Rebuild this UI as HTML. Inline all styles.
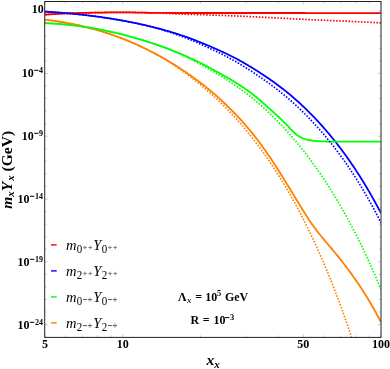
<!DOCTYPE html>
<html><head><meta charset="utf-8"><title>plot</title>
<style>
html,body{margin:0;padding:0;background:#fff;}
body{width:390px;height:369px;overflow:hidden;position:relative;font-family:"Liberation Serif",serif;}
</style></head><body>
<svg width="390" height="369" viewBox="0 0 390 369" style="position:absolute;left:0;top:0;display:block;will-change:transform">
<defs><clipPath id="c"><rect x="44.7" y="1.5" width="336.3" height="335.9"/></clipPath></defs>
<rect x="0" y="0" width="390" height="369" fill="#fff"/>
<g clip-path="url(#c)" fill="none" stroke-linejoin="round">
<path d="M45.0,14.60 L46.0,14.54 L47.0,14.48 L48.0,14.41 L49.0,14.35 L50.0,14.29 L51.0,14.23 L52.0,14.17 L53.0,14.12 L54.0,14.06 L55.0,14.00 L56.0,13.94 L57.0,13.88 L58.0,13.82 L59.0,13.76 L60.0,13.70 L61.0,13.65 L62.0,13.59 L63.0,13.53 L64.0,13.48 L65.0,13.43 L66.0,13.38 L67.0,13.34 L68.0,13.30 L69.0,13.26 L70.0,13.23 L71.0,13.20 L72.0,13.17 L73.0,13.14 L74.0,13.11 L75.0,13.08 L76.0,13.05 L77.0,13.03 L78.0,13.00 L79.0,12.98 L80.0,12.96 L81.0,12.93 L82.0,12.91 L83.0,12.89 L84.0,12.87 L85.0,12.85 L86.0,12.83 L87.0,12.81 L88.0,12.79 L89.0,12.77 L90.0,12.76 L91.0,12.74 L92.0,12.72 L93.0,12.71 L94.0,12.69 L95.0,12.67 L96.0,12.66 L97.0,12.64 L98.0,12.63 L99.0,12.61 L100.0,12.60 L101.0,12.59 L102.0,12.57 L103.0,12.55 L104.0,12.54 L105.0,12.52 L106.0,12.50 L107.0,12.49 L108.0,12.47 L109.0,12.45 L110.0,12.44 L111.0,12.42 L112.0,12.41 L113.0,12.40 L114.0,12.39 L115.0,12.38 L116.0,12.37 L117.0,12.36 L118.0,12.35 L119.0,12.35 L120.0,12.35 L121.0,12.35 L122.0,12.35 L123.0,12.36 L124.0,12.37 L125.0,12.37 L126.0,12.38 L127.0,12.39 L128.0,12.41 L129.0,12.42 L130.0,12.43 L131.0,12.45 L132.0,12.46 L133.0,12.47 L134.0,12.49 L135.0,12.50 L136.0,12.51 L137.0,12.53 L138.0,12.55 L139.0,12.57 L140.0,12.59 L141.0,12.62 L142.0,12.64 L143.0,12.66 L144.0,12.68 L145.0,12.71 L146.0,12.73 L147.0,12.75 L148.0,12.77 L149.0,12.79 L150.0,12.80 L151.0,12.81 L152.0,12.83 L153.0,12.84 L154.0,12.85 L155.0,12.86 L156.0,12.87 L157.0,12.89 L158.0,12.90 L159.0,12.91 L160.0,12.91 L161.0,12.92 L162.0,12.93 L163.0,12.94 L164.0,12.94 L165.0,12.95 L166.0,12.95 L167.0,12.96 L168.0,12.96 L169.0,12.97 L170.0,12.97 L171.0,12.98 L172.0,12.98 L173.0,12.99 L174.0,12.99 L175.0,12.99 L176.0,13.00 L177.0,13.00 L178.0,13.00 L179.0,13.00 L180.0,13.00 L181.0,13.00 L182.0,13.00 L183.0,13.00 L184.0,13.00 L185.0,13.00 L186.0,13.00 L187.0,13.00 L188.0,13.00 L189.0,13.00 L190.0,13.00 L191.0,13.00 L192.0,13.00 L193.0,13.00 L194.0,13.00 L195.0,13.00 L196.0,13.00 L197.0,13.00 L198.0,13.00 L199.0,13.00 L200.0,13.00 L201.0,13.00 L202.0,13.00 L203.0,13.00 L204.0,13.00 L205.0,13.00 L206.0,13.00 L207.0,13.00 L208.0,13.00 L209.0,13.00 L210.0,13.00 L211.0,13.00 L212.0,13.00 L213.0,13.00 L214.0,13.00 L215.0,13.00 L216.0,13.00 L217.0,13.00 L218.0,13.00 L219.0,13.00 L220.0,13.00 L221.0,13.00 L222.0,13.00 L223.0,13.00 L224.0,13.00 L225.0,13.00 L226.0,13.00 L227.0,13.00 L228.0,13.00 L229.0,13.00 L230.0,13.00 L231.0,13.00 L232.0,13.00 L233.0,13.00 L234.0,13.00 L235.0,13.00 L236.0,13.00 L237.0,13.00 L238.0,13.00 L239.0,13.00 L240.0,13.00 L241.0,13.00 L242.0,13.00 L243.0,13.00 L244.0,13.00 L245.0,13.00 L246.0,13.00 L247.0,13.00 L248.0,13.00 L249.0,13.00 L250.0,13.00 L251.0,13.00 L252.0,13.00 L253.0,13.00 L254.0,13.00 L255.0,13.00 L256.0,13.00 L257.0,13.00 L258.0,13.00 L259.0,13.00 L260.0,13.00 L261.0,13.00 L262.0,13.00 L263.0,13.00 L264.0,13.00 L265.0,13.00 L266.0,13.00 L267.0,13.00 L268.0,13.00 L269.0,13.01 L270.0,13.01 L271.0,13.01 L272.0,13.01 L273.0,13.01 L274.0,13.01 L275.0,13.01 L276.0,13.01 L277.0,13.01 L278.0,13.01 L279.0,13.01 L280.0,13.01 L281.0,13.01 L282.0,13.01 L283.0,13.01 L284.0,13.01 L285.0,13.01 L286.0,13.01 L287.0,13.01 L288.0,13.01 L289.0,13.01 L290.0,13.01 L291.0,13.02 L292.0,13.02 L293.0,13.02 L294.0,13.02 L295.0,13.02 L296.0,13.02 L297.0,13.02 L298.0,13.02 L299.0,13.02 L300.0,13.02 L301.0,13.02 L302.0,13.02 L303.0,13.02 L304.0,13.02 L305.0,13.02 L306.0,13.03 L307.0,13.03 L308.0,13.03 L309.0,13.03 L310.0,13.03 L311.0,13.03 L312.0,13.03 L313.0,13.03 L314.0,13.03 L315.0,13.03 L316.0,13.03 L317.0,13.03 L318.0,13.03 L319.0,13.04 L320.0,13.04 L321.0,13.04 L322.0,13.04 L323.0,13.04 L324.0,13.04 L325.0,13.04 L326.0,13.04 L327.0,13.04 L328.0,13.04 L329.0,13.04 L330.0,13.05 L331.0,13.05 L332.0,13.05 L333.0,13.05 L334.0,13.05 L335.0,13.05 L336.0,13.05 L337.0,13.05 L338.0,13.05 L339.0,13.05 L340.0,13.05 L341.0,13.06 L342.0,13.06 L343.0,13.06 L344.0,13.06 L345.0,13.06 L346.0,13.06 L347.0,13.06 L348.0,13.06 L349.0,13.06 L350.0,13.06 L351.0,13.07 L352.0,13.07 L353.0,13.07 L354.0,13.07 L355.0,13.07 L356.0,13.07 L357.0,13.07 L358.0,13.07 L359.0,13.07 L360.0,13.08 L361.0,13.08 L362.0,13.08 L363.0,13.08 L364.0,13.08 L365.0,13.08 L366.0,13.08 L367.0,13.08 L368.0,13.08 L369.0,13.09 L370.0,13.09 L371.0,13.09 L372.0,13.09 L373.0,13.09 L374.0,13.09 L375.0,13.09 L376.0,13.09 L377.0,13.10 L378.0,13.10 L379.0,13.10 L380.0,13.10 L381.0,13.10" stroke="#ff0000" stroke-width="1.8"/>
<path d="M45.0,11.64 L46.0,11.70 L47.0,11.76 L48.0,11.82 L49.0,11.89 L50.0,11.95 L51.0,12.02 L52.0,12.08 L53.0,12.15 L54.0,12.22 L55.0,12.29 L56.0,12.36 L57.0,12.44 L58.0,12.51 L59.0,12.59 L60.0,12.66 L61.0,12.74 L62.0,12.82 L63.0,12.91 L64.0,12.99 L65.0,13.07 L66.0,13.16 L67.0,13.25 L68.0,13.34 L69.0,13.43 L70.0,13.52 L71.0,13.61 L72.0,13.71 L73.0,13.80 L74.0,13.90 L75.0,14.00 L76.0,14.10 L77.0,14.20 L78.0,14.30 L79.0,14.41 L80.0,14.52 L81.0,14.62 L82.0,14.73 L83.0,14.84 L84.0,14.96 L85.0,15.07 L86.0,15.19 L87.0,15.31 L88.0,15.42 L89.0,15.55 L90.0,15.67 L91.0,15.79 L92.0,15.92 L93.0,16.04 L94.0,16.17 L95.0,16.30 L96.0,16.44 L97.0,16.57 L98.0,16.71 L99.0,16.84 L100.0,16.98 L101.0,17.12 L102.0,17.27 L103.0,17.41 L104.0,17.56 L105.0,17.70 L106.0,17.85 L107.0,18.01 L108.0,18.16 L109.0,18.31 L110.0,18.47 L111.0,18.63 L112.0,18.79 L113.0,18.95 L114.0,19.12 L115.0,19.28 L116.0,19.45 L117.0,19.62 L118.0,19.79 L119.0,19.97 L120.0,20.14 L121.0,20.32 L122.0,20.50 L123.0,20.68 L124.0,20.86 L125.0,21.05 L126.0,21.24 L127.0,21.43 L128.0,21.62 L129.0,21.81 L130.0,22.01 L131.0,22.21 L132.0,22.41 L133.0,22.61 L134.0,22.81 L135.0,23.02 L136.0,23.23 L137.0,23.44 L138.0,23.65 L139.0,23.87 L140.0,24.08 L141.0,24.30 L142.0,24.52 L143.0,24.75 L144.0,24.97 L145.0,25.20 L146.0,25.43 L147.0,25.67 L148.0,25.90 L149.0,26.14 L150.0,26.38 L151.0,26.62 L152.0,26.87 L153.0,27.12 L154.0,27.37 L155.0,27.62 L156.0,27.87 L157.0,28.13 L158.0,28.39 L159.0,28.65 L160.0,28.92 L161.0,29.19 L162.0,29.46 L163.0,29.73 L164.0,30.01 L165.0,30.28 L166.0,30.57 L167.0,30.85 L168.0,31.14 L169.0,31.43 L170.0,31.72 L171.0,32.02 L172.0,32.32 L173.0,32.62 L174.0,32.92 L175.0,33.23 L176.0,33.54 L177.0,33.86 L178.0,34.18 L179.0,34.50 L180.0,34.83 L181.0,35.16 L182.0,35.49 L183.0,35.83 L184.0,36.17 L185.0,36.52 L186.0,36.87 L187.0,37.22 L188.0,37.58 L189.0,37.94 L190.0,38.31 L191.0,38.68 L192.0,39.05 L193.0,39.43 L194.0,39.81 L195.0,40.20 L196.0,40.59 L197.0,40.98 L198.0,41.38 L199.0,41.77 L200.0,42.18 L201.0,42.58 L202.0,42.99 L203.0,43.40 L204.0,43.82 L205.0,44.24 L206.0,44.65 L207.0,45.08 L208.0,45.50 L209.0,45.93 L210.0,46.35 L211.0,46.78 L212.0,47.22 L213.0,47.65 L214.0,48.09 L215.0,48.52 L216.0,48.96 L217.0,49.41 L218.0,49.85 L219.0,50.30 L220.0,50.75 L221.0,51.21 L222.0,51.66 L223.0,52.13 L224.0,52.59 L225.0,53.06 L226.0,53.53 L227.0,54.01 L228.0,54.49 L229.0,54.98 L230.0,55.47 L231.0,55.97 L232.0,56.47 L233.0,56.98 L234.0,57.50 L235.0,58.02 L236.0,58.54 L237.0,59.08 L238.0,59.61 L239.0,60.16 L240.0,60.71 L241.0,61.26 L242.0,61.82 L243.0,62.39 L244.0,62.96 L245.0,63.54 L246.0,64.12 L247.0,64.71 L248.0,65.30 L249.0,65.90 L250.0,66.50 L251.0,67.11 L252.0,67.72 L253.0,68.33 L254.0,68.95 L255.0,69.58 L256.0,70.21 L257.0,70.84 L258.0,71.47 L259.0,72.12 L260.0,72.76 L261.0,73.41 L262.0,74.06 L263.0,74.72 L264.0,75.38 L265.0,76.05 L266.0,76.72 L267.0,77.40 L268.0,78.08 L269.0,78.77 L270.0,79.46 L271.0,80.16 L272.0,80.86 L273.0,81.57 L274.0,82.29 L275.0,83.01 L276.0,83.74 L277.0,84.47 L278.0,85.21 L279.0,85.96 L280.0,86.72 L281.0,87.48 L282.0,88.25 L283.0,89.02 L284.0,89.81 L285.0,90.60 L286.0,91.40 L287.0,92.21 L288.0,93.02 L289.0,93.85 L290.0,94.68 L291.0,95.52 L292.0,96.37 L293.0,97.22 L294.0,98.09 L295.0,98.96 L296.0,99.84 L297.0,100.73 L298.0,101.63 L299.0,102.53 L300.0,103.45 L301.0,104.37 L302.0,105.30 L303.0,106.24 L304.0,107.19 L305.0,108.15 L306.0,109.12 L307.0,110.09 L308.0,111.08 L309.0,112.07 L310.0,113.07 L311.0,114.08 L312.0,115.10 L313.0,116.13 L314.0,117.17 L315.0,118.22 L316.0,119.28 L317.0,120.34 L318.0,121.42 L319.0,122.50 L320.0,123.60 L321.0,124.71 L322.0,125.82 L323.0,126.95 L324.0,128.08 L325.0,129.23 L326.0,130.38 L327.0,131.55 L328.0,132.73 L329.0,133.92 L330.0,135.11 L331.0,136.32 L332.0,137.54 L333.0,138.77 L334.0,140.02 L335.0,141.27 L336.0,142.53 L337.0,143.81 L338.0,145.10 L339.0,146.40 L340.0,147.71 L341.0,149.03 L342.0,150.36 L343.0,151.71 L344.0,153.07 L345.0,154.44 L346.0,155.82 L347.0,157.22 L348.0,158.63 L349.0,160.05 L350.0,161.49 L351.0,162.93 L352.0,164.40 L353.0,165.87 L354.0,167.36 L355.0,168.86 L356.0,170.38 L357.0,171.91 L358.0,173.45 L359.0,175.01 L360.0,176.58 L361.0,178.17 L362.0,179.77 L363.0,181.39 L364.0,183.02 L365.0,184.66 L366.0,186.32 L367.0,188.00 L368.0,189.69 L369.0,191.40 L370.0,193.13 L371.0,194.87 L372.0,196.62 L373.0,198.40 L374.0,200.19 L375.0,201.99 L376.0,203.82 L377.0,205.66 L378.0,207.52 L379.0,209.39 L380.0,211.29 L381.0,213.20" stroke="#0000ff" stroke-width="1.8"/>
<path d="M45.0,19.69 L46.0,19.81 L47.0,19.93 L48.0,20.05 L49.0,20.17 L50.0,20.30 L51.0,20.43 L52.0,20.56 L53.0,20.70 L54.0,20.84 L55.0,20.98 L56.0,21.13 L57.0,21.28 L58.0,21.43 L59.0,21.59 L60.0,21.74 L61.0,21.91 L62.0,22.07 L63.0,22.24 L64.0,22.41 L65.0,22.59 L66.0,22.77 L67.0,22.95 L68.0,23.13 L69.0,23.32 L70.0,23.51 L71.0,23.71 L72.0,23.91 L73.0,24.11 L74.0,24.31 L75.0,24.52 L76.0,24.73 L77.0,24.95 L78.0,25.17 L79.0,25.39 L80.0,25.62 L81.0,25.85 L82.0,26.08 L83.0,26.32 L84.0,26.56 L85.0,26.80 L86.0,27.05 L87.0,27.30 L88.0,27.55 L89.0,27.81 L90.0,28.07 L91.0,28.34 L92.0,28.61 L93.0,28.88 L94.0,29.16 L95.0,29.44 L96.0,29.72 L97.0,30.01 L98.0,30.30 L99.0,30.60 L100.0,30.89 L101.0,31.20 L102.0,31.50 L103.0,31.81 L104.0,32.13 L105.0,32.45 L106.0,32.77 L107.0,33.09 L108.0,33.42 L109.0,33.76 L110.0,34.10 L111.0,34.44 L112.0,34.78 L113.0,35.13 L114.0,35.49 L115.0,35.84 L116.0,36.20 L117.0,36.57 L118.0,36.94 L119.0,37.31 L120.0,37.69 L121.0,38.07 L122.0,38.46 L123.0,38.85 L124.0,39.24 L125.0,39.64 L126.0,40.04 L127.0,40.45 L128.0,40.86 L129.0,41.27 L130.0,41.69 L131.0,42.12 L132.0,42.54 L133.0,42.98 L134.0,43.41 L135.0,43.85 L136.0,44.30 L137.0,44.74 L138.0,45.20 L139.0,45.66 L140.0,46.12 L141.0,46.58 L142.0,47.05 L143.0,47.53 L144.0,48.01 L145.0,48.49 L146.0,48.98 L147.0,49.47 L148.0,49.97 L149.0,50.47 L150.0,50.98 L151.0,51.49 L152.0,52.00 L153.0,52.52 L154.0,53.05 L155.0,53.58 L156.0,54.11 L157.0,54.65 L158.0,55.19 L159.0,55.74 L160.0,56.29 L161.0,56.85 L162.0,57.41 L163.0,57.97 L164.0,58.54 L165.0,59.12 L166.0,59.70 L167.0,60.28 L168.0,60.87 L169.0,61.47 L170.0,62.07 L171.0,62.67 L172.0,63.28 L173.0,63.89 L174.0,64.51 L175.0,65.13 L176.0,65.76 L177.0,66.39 L178.0,67.03 L179.0,67.67 L180.0,68.32 L181.0,68.97 L182.0,69.63 L183.0,70.29 L184.0,70.96 L185.0,71.63 L186.0,72.31 L187.0,72.99 L188.0,73.68 L189.0,74.38 L190.0,75.08 L191.0,75.78 L192.0,76.50 L193.0,77.21 L194.0,77.94 L195.0,78.67 L196.0,79.40 L197.0,80.14 L198.0,80.89 L199.0,81.65 L200.0,82.41 L201.0,83.17 L202.0,83.95 L203.0,84.73 L204.0,85.51 L205.0,86.31 L206.0,87.11 L207.0,87.92 L208.0,88.73 L209.0,89.55 L210.0,90.38 L211.0,91.22 L212.0,92.06 L213.0,92.91 L214.0,93.77 L215.0,94.64 L216.0,95.51 L217.0,96.39 L218.0,97.28 L219.0,98.18 L220.0,99.08 L221.0,100.00 L222.0,100.92 L223.0,101.85 L224.0,102.78 L225.0,103.73 L226.0,104.68 L227.0,105.64 L228.0,106.62 L229.0,107.60 L230.0,108.58 L231.0,109.58 L232.0,110.59 L233.0,111.60 L234.0,112.63 L235.0,113.66 L236.0,114.71 L237.0,115.76 L238.0,116.82 L239.0,117.90 L240.0,118.98 L241.0,120.08 L242.0,121.19 L243.0,122.30 L244.0,123.43 L245.0,124.57 L246.0,125.72 L247.0,126.89 L248.0,128.06 L249.0,129.25 L250.0,130.45 L251.0,131.67 L252.0,132.89 L253.0,134.13 L254.0,135.38 L255.0,136.65 L256.0,137.93 L257.0,139.22 L258.0,140.52 L259.0,141.84 L260.0,143.18 L261.0,144.53 L262.0,145.89 L263.0,147.27 L264.0,148.67 L265.0,150.07 L266.0,151.50 L267.0,152.94 L268.0,154.39 L269.0,155.86 L270.0,157.35 L271.0,158.84 L272.0,160.35 L273.0,161.88 L274.0,163.41 L275.0,164.95 L276.0,166.51 L277.0,168.07 L278.0,169.65 L279.0,171.23 L280.0,172.82 L281.0,174.42 L282.0,176.03 L283.0,177.64 L284.0,179.26 L285.0,180.88 L286.0,182.51 L287.0,184.14 L288.0,185.77 L289.0,187.41 L290.0,189.05 L291.0,190.69 L292.0,192.33 L293.0,193.98 L294.0,195.62 L295.0,197.26 L296.0,198.91 L297.0,200.55 L298.0,202.18 L299.0,203.82 L300.0,205.45 L301.0,207.07 L302.0,208.69 L303.0,210.30 L304.0,211.90 L305.0,213.49 L306.0,215.07 L307.0,216.63 L308.0,218.17 L309.0,219.69 L310.0,221.19 L311.0,222.67 L312.0,224.12 L313.0,225.55 L314.0,226.95 L315.0,228.31 L316.0,229.66 L317.0,230.97 L318.0,232.26 L319.0,233.53 L320.0,234.78 L321.0,236.02 L322.0,237.24 L323.0,238.44 L324.0,239.64 L325.0,240.83 L326.0,242.01 L327.0,243.19 L328.0,244.37 L329.0,245.55 L330.0,246.73 L331.0,247.92 L332.0,249.12 L333.0,250.32 L334.0,251.52 L335.0,252.74 L336.0,253.96 L337.0,255.18 L338.0,256.42 L339.0,257.66 L340.0,258.92 L341.0,260.18 L342.0,261.45 L343.0,262.73 L344.0,264.02 L345.0,265.32 L346.0,266.63 L347.0,267.96 L348.0,269.29 L349.0,270.64 L350.0,272.00 L351.0,273.37 L352.0,274.75 L353.0,276.15 L354.0,277.56 L355.0,278.99 L356.0,280.43 L357.0,281.88 L358.0,283.35 L359.0,284.84 L360.0,286.34 L361.0,287.86 L362.0,289.39 L363.0,290.94 L364.0,292.51 L365.0,294.09 L366.0,295.70 L367.0,297.32 L368.0,298.96 L369.0,300.62 L370.0,302.30 L371.0,304.00 L372.0,305.72 L373.0,307.46 L374.0,309.22 L375.0,311.00 L376.0,312.81 L377.0,314.63 L378.0,316.48 L379.0,318.35 L380.0,320.24 L381.0,322.16" stroke="#ff8000" stroke-width="1.8"/>
<path d="M45.0,23.14 L46.0,23.18 L47.0,23.23 L48.0,23.27 L49.0,23.32 L50.0,23.37 L51.0,23.42 L52.0,23.48 L53.0,23.54 L54.0,23.60 L55.0,23.67 L56.0,23.74 L57.0,23.81 L58.0,23.88 L59.0,23.96 L60.0,24.04 L61.0,24.12 L62.0,24.21 L63.0,24.30 L64.0,24.39 L65.0,24.48 L66.0,24.58 L67.0,24.68 L68.0,24.78 L69.0,24.89 L70.0,24.99 L71.0,25.11 L72.0,25.22 L73.0,25.34 L74.0,25.46 L75.0,25.58 L76.0,25.70 L77.0,25.83 L78.0,25.96 L79.0,26.10 L80.0,26.23 L81.0,26.37 L82.0,26.51 L83.0,26.66 L84.0,26.81 L85.0,26.96 L86.0,27.11 L87.0,27.27 L88.0,27.42 L89.0,27.59 L90.0,27.75 L91.0,27.92 L92.0,28.09 L93.0,28.26 L94.0,28.43 L95.0,28.61 L96.0,28.79 L97.0,28.97 L98.0,29.16 L99.0,29.35 L100.0,29.54 L101.0,29.73 L102.0,29.93 L103.0,30.13 L104.0,30.33 L105.0,30.53 L106.0,30.74 L107.0,30.95 L108.0,31.16 L109.0,31.38 L110.0,31.60 L111.0,31.82 L112.0,32.04 L113.0,32.27 L114.0,32.50 L115.0,32.73 L116.0,32.96 L117.0,33.20 L118.0,33.44 L119.0,33.68 L120.0,33.92 L121.0,34.17 L122.0,34.42 L123.0,34.67 L124.0,34.93 L125.0,35.19 L126.0,35.45 L127.0,35.71 L128.0,35.98 L129.0,36.25 L130.0,36.52 L131.0,36.79 L132.0,37.07 L133.0,37.35 L134.0,37.63 L135.0,37.91 L136.0,38.20 L137.0,38.49 L138.0,38.78 L139.0,39.08 L140.0,39.37 L141.0,39.68 L142.0,39.98 L143.0,40.28 L144.0,40.59 L145.0,40.90 L146.0,41.22 L147.0,41.53 L148.0,41.85 L149.0,42.18 L150.0,42.50 L151.0,42.83 L152.0,43.16 L153.0,43.49 L154.0,43.83 L155.0,44.16 L156.0,44.51 L157.0,44.85 L158.0,45.20 L159.0,45.55 L160.0,45.90 L161.0,46.25 L162.0,46.61 L163.0,46.97 L164.0,47.34 L165.0,47.70 L166.0,48.07 L167.0,48.45 L168.0,48.82 L169.0,49.20 L170.0,49.58 L171.0,49.97 L172.0,50.36 L173.0,50.75 L174.0,51.15 L175.0,51.55 L176.0,51.95 L177.0,52.35 L178.0,52.76 L179.0,53.18 L180.0,53.59 L181.0,54.01 L182.0,54.44 L183.0,54.87 L184.0,55.30 L185.0,55.74 L186.0,56.18 L187.0,56.62 L188.0,57.07 L189.0,57.53 L190.0,57.99 L191.0,58.45 L192.0,58.92 L193.0,59.39 L194.0,59.86 L195.0,60.34 L196.0,60.83 L197.0,61.31 L198.0,61.81 L199.0,62.30 L200.0,62.80 L201.0,63.30 L202.0,63.81 L203.0,64.32 L204.0,64.84 L205.0,65.35 L206.0,65.87 L207.0,66.40 L208.0,66.92 L209.0,67.45 L210.0,67.98 L211.0,68.51 L212.0,69.05 L213.0,69.59 L214.0,70.13 L215.0,70.67 L216.0,71.22 L217.0,71.76 L218.0,72.31 L219.0,72.87 L220.0,73.42 L221.0,73.98 L222.0,74.54 L223.0,75.11 L224.0,75.67 L225.0,76.24 L226.0,76.82 L227.0,77.39 L228.0,77.98 L229.0,78.56 L230.0,79.15 L231.0,79.75 L232.0,80.34 L233.0,80.95 L234.0,81.56 L235.0,82.17 L236.0,82.79 L237.0,83.42 L238.0,84.05 L239.0,84.69 L240.0,85.34 L241.0,85.99 L242.0,86.65 L243.0,87.32 L244.0,88.00 L245.0,88.69 L246.0,89.38 L247.0,90.09 L248.0,90.80 L249.0,91.53 L250.0,92.27 L251.0,93.02 L252.0,93.78 L253.0,94.56 L254.0,95.35 L255.0,96.15 L256.0,96.96 L257.0,97.78 L258.0,98.61 L259.0,99.46 L260.0,100.31 L261.0,101.17 L262.0,102.04 L263.0,102.91 L264.0,103.79 L265.0,104.67 L266.0,105.55 L267.0,106.43 L268.0,107.31 L269.0,108.19 L270.0,109.08 L271.0,109.96 L272.0,110.85 L273.0,111.74 L274.0,112.64 L275.0,113.55 L276.0,114.46 L277.0,115.38 L278.0,116.32 L279.0,117.27 L280.0,118.23 L281.0,119.21 L282.0,120.20 L283.0,121.21 L284.0,122.24 L285.0,123.17 L286.0,124.18 L287.0,125.19 L288.0,126.20 L289.0,127.22 L290.0,128.26 L291.0,129.29 L292.0,130.30 L293.0,131.30 L294.0,132.31 L295.0,133.28 L296.0,134.16 L297.0,134.94 L298.0,135.66 L299.0,136.32 L300.0,136.90 L301.0,137.43 L302.0,137.92 L303.0,138.36 L304.0,138.76 L305.0,139.10 L306.0,139.41 L307.0,139.67 L308.0,139.90 L309.0,140.09 L310.0,140.25 L311.0,140.40 L312.0,140.53 L313.0,140.67 L314.0,140.79 L315.0,140.91 L316.0,141.00 L317.0,141.08 L318.0,141.15 L319.0,141.22 L320.0,141.27 L321.0,141.31 L322.0,141.35 L323.0,141.39 L324.0,141.42 L325.0,141.45 L326.0,141.48 L327.0,141.50 L328.0,141.52 L329.0,141.54 L330.0,141.55 L331.0,141.56 L332.0,141.57 L333.0,141.57 L334.0,141.58 L335.0,141.59 L336.0,141.59 L337.0,141.59 L338.0,141.60 L339.0,141.60 L340.0,141.60 L341.0,141.60 L342.0,141.60 L343.0,141.60 L344.0,141.60 L345.0,141.60 L346.0,141.60 L347.0,141.60 L348.0,141.60 L349.0,141.60 L350.0,141.60 L351.0,141.60 L352.0,141.60 L353.0,141.60 L354.0,141.60 L355.0,141.60 L356.0,141.60 L357.0,141.60 L358.0,141.60 L359.0,141.60 L360.0,141.60 L361.0,141.60 L362.0,141.60 L363.0,141.60 L364.0,141.60 L365.0,141.60 L366.0,141.60 L367.0,141.60 L368.0,141.60 L369.0,141.60 L370.0,141.60 L371.0,141.60 L372.0,141.60 L373.0,141.60 L374.0,141.60 L375.0,141.60 L376.0,141.60 L377.0,141.60 L378.0,141.60 L379.0,141.60 L380.0,141.60 L381.0,141.60" stroke="#00ff00" stroke-width="1.8"/>
<path d="M45.0,14.60 L46.0,14.54 L47.0,14.48 L48.0,14.41 L49.0,14.35 L50.0,14.29 L51.0,14.23 L52.0,14.17 L53.0,14.12 L54.0,14.06 L55.0,14.00 L56.0,13.94 L57.0,13.88 L58.0,13.82 L59.0,13.76 L60.0,13.70 L61.0,13.65 L62.0,13.59 L63.0,13.53 L64.0,13.48 L65.0,13.43 L66.0,13.38 L67.0,13.34 L68.0,13.30 L69.0,13.26 L70.0,13.23 L71.0,13.20 L72.0,13.17 L73.0,13.14 L74.0,13.11 L75.0,13.08 L76.0,13.05 L77.0,13.03 L78.0,13.00 L79.0,12.98 L80.0,12.96 L81.0,12.93 L82.0,12.91 L83.0,12.89 L84.0,12.87 L85.0,12.85 L86.0,12.83 L87.0,12.81 L88.0,12.79 L89.0,12.77 L90.0,12.76 L91.0,12.74 L92.0,12.72 L93.0,12.71 L94.0,12.69 L95.0,12.67 L96.0,12.66 L97.0,12.64 L98.0,12.63 L99.0,12.61 L100.0,12.60 L101.0,12.59 L102.0,12.57 L103.0,12.55 L104.0,12.54 L105.0,12.52 L106.0,12.50 L107.0,12.49 L108.0,12.47 L109.0,12.45 L110.0,12.44 L111.0,12.42 L112.0,12.41 L113.0,12.40 L114.0,12.39 L115.0,12.38 L116.0,12.37 L117.0,12.36 L118.0,12.35 L119.0,12.35 L120.0,12.35 L121.0,12.35 L122.0,12.35 L123.0,12.36 L124.0,12.37 L125.0,12.37 L126.0,12.38 L127.0,12.39 L128.0,12.40 L129.0,12.42 L130.0,12.43 L131.0,12.44 L132.0,12.46 L133.0,12.47 L134.0,12.49 L135.0,12.50 L136.0,12.52 L137.0,12.53 L138.0,12.55 L139.0,12.57 L140.0,12.59 L141.0,12.62 L142.0,12.64 L143.0,12.66 L144.0,12.69 L145.0,12.72 L146.0,12.74 L147.0,12.77 L148.0,12.80 L149.0,12.82 L150.0,12.85 L151.0,12.88 L152.0,12.90 L153.0,12.93 L154.0,12.96 L155.0,12.99 L156.0,13.02 L157.0,13.05 L158.0,13.08 L159.0,13.11 L160.0,13.15 L161.0,13.19 L162.0,13.23 L163.0,13.27 L164.0,13.32 L165.0,13.36 L166.0,13.41 L167.0,13.46 L168.0,13.51 L169.0,13.55 L170.0,13.60 L171.0,13.65 L172.0,13.69 L173.0,13.74 L174.0,13.79 L175.0,13.83 L176.0,13.88 L177.0,13.92 L178.0,13.97 L179.0,14.01 L180.0,14.05 L181.0,14.09 L182.0,14.12 L183.0,14.16 L184.0,14.20 L185.0,14.23 L186.0,14.26 L187.0,14.30 L188.0,14.33 L189.0,14.36 L190.0,14.39 L191.0,14.42 L192.0,14.45 L193.0,14.48 L194.0,14.51 L195.0,14.54 L196.0,14.57 L197.0,14.60 L198.0,14.63 L199.0,14.66 L200.0,14.68 L201.0,14.71 L202.0,14.74 L203.0,14.77 L204.0,14.80 L205.0,14.84 L206.0,14.87 L207.0,14.90 L208.0,14.93 L209.0,14.97 L210.0,15.00 L211.0,15.03 L212.0,15.07 L213.0,15.10 L214.0,15.14 L215.0,15.18 L216.0,15.21 L217.0,15.25 L218.0,15.28 L219.0,15.32 L220.0,15.36 L221.0,15.39 L222.0,15.43 L223.0,15.47 L224.0,15.51 L225.0,15.55 L226.0,15.58 L227.0,15.62 L228.0,15.66 L229.0,15.70 L230.0,15.74 L231.0,15.78 L232.0,15.82 L233.0,15.86 L234.0,15.90 L235.0,15.94 L236.0,15.98 L237.0,16.02 L238.0,16.07 L239.0,16.11 L240.0,16.15 L241.0,16.19 L242.0,16.24 L243.0,16.28 L244.0,16.32 L245.0,16.37 L246.0,16.41 L247.0,16.46 L248.0,16.51 L249.0,16.55 L250.0,16.60 L251.0,16.65 L252.0,16.70 L253.0,16.74 L254.0,16.79 L255.0,16.84 L256.0,16.89 L257.0,16.94 L258.0,16.99 L259.0,17.04 L260.0,17.09 L261.0,17.14 L262.0,17.19 L263.0,17.24 L264.0,17.29 L265.0,17.34 L266.0,17.39 L267.0,17.44 L268.0,17.49 L269.0,17.54 L270.0,17.59 L271.0,17.64 L272.0,17.69 L273.0,17.74 L274.0,17.80 L275.0,17.85 L276.0,17.90 L277.0,17.95 L278.0,18.00 L279.0,18.05 L280.0,18.10 L281.0,18.15 L282.0,18.20 L283.0,18.25 L284.0,18.31 L285.0,18.36 L286.0,18.41 L287.0,18.46 L288.0,18.52 L289.0,18.57 L290.0,18.62 L291.0,18.68 L292.0,18.73 L293.0,18.78 L294.0,18.84 L295.0,18.89 L296.0,18.94 L297.0,18.99 L298.0,19.05 L299.0,19.10 L300.0,19.15 L301.0,19.20 L302.0,19.25 L303.0,19.30 L304.0,19.35 L305.0,19.40 L306.0,19.45 L307.0,19.50 L308.0,19.55 L309.0,19.59 L310.0,19.64 L311.0,19.69 L312.0,19.73 L313.0,19.78 L314.0,19.82 L315.0,19.87 L316.0,19.91 L317.0,19.96 L318.0,20.00 L319.0,20.05 L320.0,20.09 L321.0,20.13 L322.0,20.17 L323.0,20.22 L324.0,20.26 L325.0,20.30 L326.0,20.34 L327.0,20.39 L328.0,20.43 L329.0,20.47 L330.0,20.51 L331.0,20.56 L332.0,20.60 L333.0,20.64 L334.0,20.68 L335.0,20.72 L336.0,20.76 L337.0,20.81 L338.0,20.85 L339.0,20.89 L340.0,20.93 L341.0,20.98 L342.0,21.02 L343.0,21.06 L344.0,21.11 L345.0,21.15 L346.0,21.19 L347.0,21.24 L348.0,21.28 L349.0,21.33 L350.0,21.37 L351.0,21.42 L352.0,21.46 L353.0,21.51 L354.0,21.55 L355.0,21.60 L356.0,21.65 L357.0,21.69 L358.0,21.74 L359.0,21.79 L360.0,21.84 L361.0,21.89 L362.0,21.94 L363.0,21.98 L364.0,22.03 L365.0,22.08 L366.0,22.13 L367.0,22.18 L368.0,22.23 L369.0,22.28 L370.0,22.33 L371.0,22.38 L372.0,22.44 L373.0,22.49 L374.0,22.54 L375.0,22.59 L376.0,22.64 L377.0,22.69 L378.0,22.74 L379.0,22.80 L380.0,22.85 L381.0,22.90" stroke="#ff0000" stroke-width="1.65" stroke-dasharray="1.55 1.55"/>
<path d="M45.0,11.64 L46.0,11.70 L47.0,11.76 L48.0,11.82 L49.0,11.89 L50.0,11.95 L51.0,12.02 L52.0,12.08 L53.0,12.15 L54.0,12.22 L55.0,12.29 L56.0,12.36 L57.0,12.44 L58.0,12.51 L59.0,12.59 L60.0,12.66 L61.0,12.74 L62.0,12.82 L63.0,12.91 L64.0,12.99 L65.0,13.07 L66.0,13.16 L67.0,13.25 L68.0,13.34 L69.0,13.43 L70.0,13.52 L71.0,13.61 L72.0,13.71 L73.0,13.80 L74.0,13.90 L75.0,14.00 L76.0,14.10 L77.0,14.20 L78.0,14.30 L79.0,14.41 L80.0,14.52 L81.0,14.62 L82.0,14.73 L83.0,14.84 L84.0,14.96 L85.0,15.07 L86.0,15.19 L87.0,15.31 L88.0,15.42 L89.0,15.55 L90.0,15.67 L91.0,15.79 L92.0,15.92 L93.0,16.04 L94.0,16.17 L95.0,16.30 L96.0,16.44 L97.0,16.57 L98.0,16.71 L99.0,16.84 L100.0,16.98 L101.0,17.12 L102.0,17.27 L103.0,17.41 L104.0,17.56 L105.0,17.70 L106.0,17.85 L107.0,18.01 L108.0,18.16 L109.0,18.31 L110.0,18.47 L111.0,18.63 L112.0,18.79 L113.0,18.95 L114.0,19.12 L115.0,19.28 L116.0,19.45 L117.0,19.62 L118.0,19.79 L119.0,19.97 L120.0,20.14 L121.0,20.32 L122.0,20.50 L123.0,20.68 L124.0,20.86 L125.0,21.05 L126.0,21.24 L127.0,21.43 L128.0,21.62 L129.0,21.81 L130.0,22.01 L131.0,22.21 L132.0,22.41 L133.0,22.61 L134.0,22.81 L135.0,23.02 L136.0,23.23 L137.0,23.44 L138.0,23.65 L139.0,23.87 L140.0,24.08 L141.0,24.30 L142.0,24.53 L143.0,24.75 L144.0,24.98 L145.0,25.21 L146.0,25.45 L147.0,25.69 L148.0,25.93 L149.0,26.18 L150.0,26.43 L151.0,26.68 L152.0,26.94 L153.0,27.20 L154.0,27.46 L155.0,27.73 L156.0,28.01 L157.0,28.28 L158.0,28.56 L159.0,28.85 L160.0,29.14 L161.0,29.43 L162.0,29.72 L163.0,30.02 L164.0,30.33 L165.0,30.64 L166.0,30.95 L167.0,31.27 L168.0,31.59 L169.0,31.92 L170.0,32.25 L171.0,32.59 L172.0,32.93 L173.0,33.28 L174.0,33.63 L175.0,33.99 L176.0,34.35 L177.0,34.71 L178.0,35.09 L179.0,35.46 L180.0,35.85 L181.0,36.21 L182.0,36.58 L183.0,36.95 L184.0,37.32 L185.0,37.70 L186.0,38.08 L187.0,38.47 L188.0,38.86 L189.0,39.26 L190.0,39.66 L191.0,40.07 L192.0,40.47 L193.0,40.89 L194.0,41.30 L195.0,41.73 L196.0,42.15 L197.0,42.58 L198.0,43.01 L199.0,43.45 L200.0,43.89 L201.0,44.33 L202.0,44.78 L203.0,45.23 L204.0,45.68 L205.0,46.14 L206.0,46.60 L207.0,47.06 L208.0,47.52 L209.0,47.99 L210.0,48.46 L211.0,48.93 L212.0,49.40 L213.0,49.88 L214.0,50.36 L215.0,50.84 L216.0,51.32 L217.0,51.81 L218.0,52.29 L219.0,52.79 L220.0,53.28 L221.0,53.78 L222.0,54.28 L223.0,54.79 L224.0,55.30 L225.0,55.81 L226.0,56.33 L227.0,56.85 L228.0,57.38 L229.0,57.91 L230.0,58.45 L231.0,59.00 L232.0,59.55 L233.0,60.10 L234.0,60.66 L235.0,61.23 L236.0,61.80 L237.0,62.38 L238.0,62.96 L239.0,63.55 L240.0,64.14 L241.0,64.74 L242.0,65.35 L243.0,65.96 L244.0,66.57 L245.0,67.19 L246.0,67.82 L247.0,68.45 L248.0,69.08 L249.0,69.72 L250.0,70.37 L251.0,71.02 L252.0,71.67 L253.0,72.33 L254.0,72.99 L255.0,73.65 L256.0,74.32 L257.0,75.00 L258.0,75.67 L259.0,76.35 L260.0,77.04 L261.0,77.73 L262.0,78.42 L263.0,79.12 L264.0,79.82 L265.0,80.53 L266.0,81.24 L267.0,81.95 L268.0,82.67 L269.0,83.40 L270.0,84.13 L271.0,84.86 L272.0,85.60 L273.0,86.35 L274.0,87.10 L275.0,87.86 L276.0,88.62 L277.0,89.39 L278.0,90.17 L279.0,90.95 L280.0,91.74 L281.0,92.54 L282.0,93.34 L283.0,94.15 L284.0,94.97 L285.0,95.80 L286.0,96.63 L287.0,97.47 L288.0,98.32 L289.0,99.18 L290.0,100.04 L291.0,100.91 L292.0,101.79 L293.0,102.68 L294.0,103.58 L295.0,104.49 L296.0,105.40 L297.0,106.33 L298.0,107.26 L299.0,108.20 L300.0,109.15 L301.0,110.10 L302.0,111.07 L303.0,112.04 L304.0,113.03 L305.0,114.02 L306.0,115.02 L307.0,116.03 L308.0,117.05 L309.0,118.08 L310.0,119.12 L311.0,120.17 L312.0,121.23 L313.0,122.29 L314.0,123.37 L315.0,124.45 L316.0,125.55 L317.0,126.65 L318.0,127.77 L319.0,128.89 L320.0,130.02 L321.0,131.17 L322.0,132.32 L323.0,133.48 L324.0,134.66 L325.0,135.84 L326.0,137.04 L327.0,138.24 L328.0,139.46 L329.0,140.69 L330.0,141.92 L331.0,143.17 L332.0,144.43 L333.0,145.70 L334.0,146.99 L335.0,148.28 L336.0,149.59 L337.0,150.90 L338.0,152.23 L339.0,153.57 L340.0,154.93 L341.0,156.29 L342.0,157.67 L343.0,159.06 L344.0,160.46 L345.0,161.88 L346.0,163.31 L347.0,164.75 L348.0,166.20 L349.0,167.67 L350.0,169.15 L351.0,170.65 L352.0,172.16 L353.0,173.68 L354.0,175.22 L355.0,176.77 L356.0,178.34 L357.0,179.92 L358.0,181.52 L359.0,183.13 L360.0,184.75 L361.0,186.39 L362.0,188.05 L363.0,189.72 L364.0,191.41 L365.0,193.12 L366.0,194.84 L367.0,196.58 L368.0,198.33 L369.0,200.10 L370.0,201.89 L371.0,203.70 L372.0,205.52 L373.0,207.36 L374.0,209.22 L375.0,211.10 L376.0,212.99 L377.0,214.91 L378.0,216.84 L379.0,218.79 L380.0,220.76 L381.0,222.75" stroke="#0000ff" stroke-width="1.65" stroke-dasharray="1.55 1.55"/>
<path d="M45.0,19.69 L46.0,19.81 L47.0,19.93 L48.0,20.05 L49.0,20.17 L50.0,20.30 L51.0,20.43 L52.0,20.56 L53.0,20.70 L54.0,20.84 L55.0,20.98 L56.0,21.13 L57.0,21.28 L58.0,21.43 L59.0,21.59 L60.0,21.74 L61.0,21.91 L62.0,22.07 L63.0,22.24 L64.0,22.41 L65.0,22.59 L66.0,22.77 L67.0,22.95 L68.0,23.13 L69.0,23.32 L70.0,23.51 L71.0,23.71 L72.0,23.91 L73.0,24.11 L74.0,24.31 L75.0,24.52 L76.0,24.73 L77.0,24.95 L78.0,25.17 L79.0,25.39 L80.0,25.62 L81.0,25.85 L82.0,26.08 L83.0,26.32 L84.0,26.56 L85.0,26.80 L86.0,27.05 L87.0,27.30 L88.0,27.55 L89.0,27.81 L90.0,28.07 L91.0,28.34 L92.0,28.61 L93.0,28.88 L94.0,29.16 L95.0,29.44 L96.0,29.72 L97.0,30.01 L98.0,30.30 L99.0,30.60 L100.0,30.89 L101.0,31.20 L102.0,31.50 L103.0,31.81 L104.0,32.13 L105.0,32.45 L106.0,32.77 L107.0,33.09 L108.0,33.42 L109.0,33.76 L110.0,34.10 L111.0,34.44 L112.0,34.78 L113.0,35.13 L114.0,35.49 L115.0,35.84 L116.0,36.20 L117.0,36.57 L118.0,36.94 L119.0,37.31 L120.0,37.69 L121.0,38.07 L122.0,38.46 L123.0,38.85 L124.0,39.24 L125.0,39.64 L126.0,40.04 L127.0,40.45 L128.0,40.86 L129.0,41.27 L130.0,41.69 L131.0,42.12 L132.0,42.54 L133.0,42.98 L134.0,43.41 L135.0,43.85 L136.0,44.30 L137.0,44.74 L138.0,45.20 L139.0,45.66 L140.0,46.12 L141.0,46.58 L142.0,47.05 L143.0,47.52 L144.0,48.00 L145.0,48.49 L146.0,48.97 L147.0,49.47 L148.0,49.97 L149.0,50.47 L150.0,50.98 L151.0,51.49 L152.0,52.01 L153.0,52.53 L154.0,53.06 L155.0,53.60 L156.0,54.14 L157.0,54.69 L158.0,55.24 L159.0,55.80 L160.0,56.37 L161.0,56.94 L162.0,57.52 L163.0,58.10 L164.0,58.69 L165.0,59.29 L166.0,59.90 L167.0,60.51 L168.0,61.13 L169.0,61.76 L170.0,62.39 L171.0,63.04 L172.0,63.69 L173.0,64.35 L174.0,65.02 L175.0,65.69 L176.0,66.38 L177.0,67.07 L178.0,67.77 L179.0,68.48 L180.0,69.20 L181.0,69.91 L182.0,70.62 L183.0,71.34 L184.0,72.07 L185.0,72.80 L186.0,73.53 L187.0,74.28 L188.0,75.02 L189.0,75.78 L190.0,76.54 L191.0,77.31 L192.0,78.08 L193.0,78.85 L194.0,79.64 L195.0,80.42 L196.0,81.22 L197.0,82.02 L198.0,82.82 L199.0,83.63 L200.0,84.45 L201.0,85.27 L202.0,86.09 L203.0,86.93 L204.0,87.76 L205.0,88.61 L206.0,89.46 L207.0,90.31 L208.0,91.17 L209.0,92.04 L210.0,92.92 L211.0,93.80 L212.0,94.69 L213.0,95.58 L214.0,96.48 L215.0,97.39 L216.0,98.31 L217.0,99.24 L218.0,100.17 L219.0,101.11 L220.0,102.06 L221.0,103.02 L222.0,103.99 L223.0,104.96 L224.0,105.95 L225.0,106.94 L226.0,107.95 L227.0,108.96 L228.0,109.98 L229.0,111.01 L230.0,112.05 L231.0,113.10 L232.0,114.16 L233.0,115.23 L234.0,116.31 L235.0,117.40 L236.0,118.50 L237.0,119.61 L238.0,120.73 L239.0,121.86 L240.0,123.00 L241.0,124.15 L242.0,125.31 L243.0,126.48 L244.0,127.66 L245.0,128.85 L246.0,130.05 L247.0,131.27 L248.0,132.49 L249.0,133.72 L250.0,134.97 L251.0,136.22 L252.0,137.49 L253.0,138.76 L254.0,140.05 L255.0,141.35 L256.0,142.66 L257.0,143.98 L258.0,145.31 L259.0,146.65 L260.0,148.00 L261.0,149.37 L262.0,150.75 L263.0,152.14 L264.0,153.54 L265.0,154.95 L266.0,156.37 L267.0,157.81 L268.0,159.26 L269.0,160.72 L270.0,162.19 L271.0,163.68 L272.0,165.18 L273.0,166.69 L274.0,168.21 L275.0,169.75 L276.0,171.30 L277.0,172.86 L278.0,174.44 L279.0,176.03 L280.0,177.63 L281.0,179.25 L282.0,180.88 L283.0,182.53 L284.0,184.19 L285.0,185.86 L286.0,187.55 L287.0,189.25 L288.0,190.96 L289.0,192.69 L290.0,194.44 L291.0,196.20 L292.0,197.97 L293.0,199.77 L294.0,201.57 L295.0,203.39 L296.0,205.23 L297.0,207.08 L298.0,208.95 L299.0,210.84 L300.0,212.74 L301.0,214.66 L302.0,216.59 L303.0,218.54 L304.0,220.51 L305.0,222.50 L306.0,224.50 L307.0,226.52 L308.0,228.55 L309.0,230.61 L310.0,232.68 L311.0,234.77 L312.0,236.88 L313.0,239.01 L314.0,241.16 L315.0,243.32 L316.0,245.50 L317.0,247.71 L318.0,249.93 L319.0,252.17 L320.0,254.43 L321.0,256.71 L322.0,259.01 L323.0,261.34 L324.0,263.68 L325.0,266.04 L326.0,268.43 L327.0,270.83 L328.0,273.26 L329.0,275.70 L330.0,278.17 L331.0,280.67 L332.0,283.18 L333.0,285.72 L334.0,288.28 L335.0,290.86 L336.0,293.46 L337.0,296.09 L338.0,298.74 L339.0,301.42 L340.0,304.12 L341.0,306.84 L342.0,309.59 L343.0,312.37 L344.0,315.16 L345.0,317.99 L346.0,320.84 L347.0,323.71 L348.0,326.62 L349.0,329.54 L350.0,332.50 L351.0,335.48 L352.0,338.49" stroke="#ff8000" stroke-width="1.65" stroke-dasharray="1.55 1.55"/>
<path d="M45.0,23.14 L46.0,23.18 L47.0,23.23 L48.0,23.27 L49.0,23.32 L50.0,23.37 L51.0,23.42 L52.0,23.48 L53.0,23.54 L54.0,23.60 L55.0,23.67 L56.0,23.74 L57.0,23.81 L58.0,23.88 L59.0,23.96 L60.0,24.04 L61.0,24.12 L62.0,24.21 L63.0,24.30 L64.0,24.39 L65.0,24.48 L66.0,24.58 L67.0,24.68 L68.0,24.78 L69.0,24.89 L70.0,24.99 L71.0,25.11 L72.0,25.22 L73.0,25.34 L74.0,25.46 L75.0,25.58 L76.0,25.70 L77.0,25.83 L78.0,25.96 L79.0,26.10 L80.0,26.23 L81.0,26.37 L82.0,26.51 L83.0,26.66 L84.0,26.81 L85.0,26.96 L86.0,27.11 L87.0,27.27 L88.0,27.42 L89.0,27.59 L90.0,27.75 L91.0,27.92 L92.0,28.09 L93.0,28.26 L94.0,28.43 L95.0,28.61 L96.0,28.79 L97.0,28.97 L98.0,29.16 L99.0,29.35 L100.0,29.54 L101.0,29.73 L102.0,29.93 L103.0,30.13 L104.0,30.33 L105.0,30.53 L106.0,30.74 L107.0,30.95 L108.0,31.16 L109.0,31.38 L110.0,31.60 L111.0,31.82 L112.0,32.04 L113.0,32.27 L114.0,32.50 L115.0,32.73 L116.0,32.96 L117.0,33.20 L118.0,33.44 L119.0,33.68 L120.0,33.92 L121.0,34.17 L122.0,34.42 L123.0,34.67 L124.0,34.93 L125.0,35.19 L126.0,35.45 L127.0,35.71 L128.0,35.98 L129.0,36.25 L130.0,36.52 L131.0,36.79 L132.0,37.07 L133.0,37.35 L134.0,37.63 L135.0,37.91 L136.0,38.20 L137.0,38.49 L138.0,38.78 L139.0,39.08 L140.0,39.37 L141.0,39.67 L142.0,39.97 L143.0,40.28 L144.0,40.58 L145.0,40.89 L146.0,41.20 L147.0,41.51 L148.0,41.83 L149.0,42.15 L150.0,42.47 L151.0,42.79 L152.0,43.12 L153.0,43.45 L154.0,43.78 L155.0,44.12 L156.0,44.46 L157.0,44.80 L158.0,45.15 L159.0,45.50 L160.0,45.85 L161.0,46.21 L162.0,46.57 L163.0,46.93 L164.0,47.30 L165.0,47.68 L166.0,48.06 L167.0,48.44 L168.0,48.83 L169.0,49.22 L170.0,49.62 L171.0,50.02 L172.0,50.43 L173.0,50.85 L174.0,51.27 L175.0,51.70 L176.0,52.13 L177.0,52.57 L178.0,53.02 L179.0,53.47 L180.0,53.93 L181.0,54.39 L182.0,54.86 L183.0,55.32 L184.0,55.80 L185.0,56.28 L186.0,56.76 L187.0,57.26 L188.0,57.75 L189.0,58.25 L190.0,58.76 L191.0,59.27 L192.0,59.78 L193.0,60.30 L194.0,60.82 L195.0,61.35 L196.0,61.88 L197.0,62.42 L198.0,62.96 L199.0,63.50 L200.0,64.05 L201.0,64.60 L202.0,65.15 L203.0,65.71 L204.0,66.27 L205.0,66.83 L206.0,67.39 L207.0,67.96 L208.0,68.53 L209.0,69.10 L210.0,69.68 L211.0,70.26 L212.0,70.84 L213.0,71.42 L214.0,72.00 L215.0,72.59 L216.0,73.18 L217.0,73.78 L218.0,74.38 L219.0,74.98 L220.0,75.58 L221.0,76.19 L222.0,76.80 L223.0,77.42 L224.0,78.04 L225.0,78.66 L226.0,79.29 L227.0,79.93 L228.0,80.57 L229.0,81.21 L230.0,81.86 L231.0,82.52 L232.0,83.18 L233.0,83.85 L234.0,84.52 L235.0,85.20 L236.0,85.89 L237.0,86.58 L238.0,87.28 L239.0,87.99 L240.0,88.70 L241.0,89.42 L242.0,90.15 L243.0,90.89 L244.0,91.63 L245.0,92.38 L246.0,93.14 L247.0,93.90 L248.0,94.68 L249.0,95.46 L250.0,96.25 L251.0,97.04 L252.0,97.85 L253.0,98.66 L254.0,99.48 L255.0,100.31 L256.0,101.15 L257.0,101.99 L258.0,102.85 L259.0,103.71 L260.0,104.58 L261.0,105.45 L262.0,106.34 L263.0,107.23 L264.0,108.14 L265.0,109.05 L266.0,109.96 L267.0,110.89 L268.0,111.83 L269.0,112.77 L270.0,113.72 L271.0,114.68 L272.0,115.65 L273.0,116.63 L274.0,117.62 L275.0,118.61 L276.0,119.61 L277.0,120.63 L278.0,121.65 L279.0,122.68 L280.0,123.72 L281.0,124.76 L282.0,125.82 L283.0,126.88 L284.0,127.96 L285.0,129.04 L286.0,130.14 L287.0,131.24 L288.0,132.35 L289.0,133.47 L290.0,134.60 L291.0,135.74 L292.0,136.89 L293.0,138.05 L294.0,139.22 L295.0,140.40 L296.0,141.59 L297.0,142.79 L298.0,143.99 L299.0,145.21 L300.0,146.44 L301.0,147.68 L302.0,148.93 L303.0,150.19 L304.0,151.47 L305.0,152.75 L306.0,154.04 L307.0,155.34 L308.0,156.66 L309.0,157.98 L310.0,159.32 L311.0,160.67 L312.0,162.03 L313.0,163.40 L314.0,164.78 L315.0,166.18 L316.0,167.58 L317.0,169.00 L318.0,170.43 L319.0,171.87 L320.0,173.32 L321.0,174.79 L322.0,176.27 L323.0,177.76 L324.0,179.26 L325.0,180.78 L326.0,182.30 L327.0,183.84 L328.0,185.40 L329.0,186.96 L330.0,188.54 L331.0,190.14 L332.0,191.74 L333.0,193.36 L334.0,195.00 L335.0,196.64 L336.0,198.31 L337.0,199.98 L338.0,201.67 L339.0,203.37 L340.0,205.09 L341.0,206.82 L342.0,208.57 L343.0,210.33 L344.0,212.10 L345.0,213.89 L346.0,215.70 L347.0,217.52 L348.0,219.35 L349.0,221.20 L350.0,223.07 L351.0,224.95 L352.0,226.85 L353.0,228.76 L354.0,230.69 L355.0,232.64 L356.0,234.60 L357.0,236.58 L358.0,238.57 L359.0,240.59 L360.0,242.61 L361.0,244.66 L362.0,246.72 L363.0,248.80 L364.0,250.90 L365.0,253.01 L366.0,255.14 L367.0,257.29 L368.0,259.46 L369.0,261.65 L370.0,263.85 L371.0,266.07 L372.0,268.32 L373.0,270.58 L374.0,272.85 L375.0,275.15 L376.0,277.47 L377.0,279.81 L378.0,282.16 L379.0,284.54 L380.0,286.93 L381.0,289.35" stroke="#00ff00" stroke-width="1.65" stroke-dasharray="1.55 1.55"/>
</g>
<path d="M44.7,337.16h2.0M381.0,337.16h-2.0M44.7,324.60h3.2M381.0,324.60h-3.2M44.7,312.04h2.0M381.0,312.04h-2.0M44.7,299.48h2.0M381.0,299.48h-2.0M44.7,286.92h2.0M381.0,286.92h-2.0M44.7,274.36h2.0M381.0,274.36h-2.0M44.7,261.80h3.2M381.0,261.80h-3.2M44.7,249.24h2.0M381.0,249.24h-2.0M44.7,236.68h2.0M381.0,236.68h-2.0M44.7,224.12h2.0M381.0,224.12h-2.0M44.7,211.56h2.0M381.0,211.56h-2.0M44.7,199.00h3.2M381.0,199.00h-3.2M44.7,186.44h2.0M381.0,186.44h-2.0M44.7,173.88h2.0M381.0,173.88h-2.0M44.7,161.32h2.0M381.0,161.32h-2.0M44.7,148.76h2.0M381.0,148.76h-2.0M44.7,136.20h3.2M381.0,136.20h-3.2M44.7,123.64h2.0M381.0,123.64h-2.0M44.7,111.08h2.0M381.0,111.08h-2.0M44.7,98.52h2.0M381.0,98.52h-2.0M44.7,85.96h2.0M381.0,85.96h-2.0M44.7,73.40h3.2M381.0,73.40h-3.2M44.7,60.84h2.0M381.0,60.84h-2.0M44.7,48.28h2.0M381.0,48.28h-2.0M44.7,35.72h2.0M381.0,35.72h-2.0M44.7,23.16h2.0M381.0,23.16h-2.0M44.7,10.60h3.2M381.0,10.60h-3.2M45.00,337.4v-3.2M45.00,1.5v3.2M65.45,337.4v-2.0M65.45,1.5v2.0M82.74,337.4v-2.0M82.74,1.5v2.0M97.72,337.4v-2.0M97.72,1.5v2.0M110.93,337.4v-2.0M110.93,1.5v2.0M122.74,337.4v-3.2M122.74,1.5v3.2M200.49,337.4v-2.0M200.49,1.5v2.0M245.96,337.4v-2.0M245.96,1.5v2.0M278.23,337.4v-2.0M278.23,1.5v2.0M303.26,337.4v-3.2M303.26,1.5v3.2M323.71,337.4v-2.0M323.71,1.5v2.0M341.00,337.4v-2.0M341.00,1.5v2.0M355.97,337.4v-2.0M355.97,1.5v2.0M369.18,337.4v-2.0M369.18,1.5v2.0M381.00,337.4v-3.2M381.00,1.5v3.2" stroke="#999" stroke-width="0.5" fill="none"/>
<rect x="44.7" y="1.5" width="336.3" height="335.9" fill="none" stroke="#222" stroke-width="1"/>
<g font-family="Liberation Serif, serif" font-weight="bold" font-size="12px" fill="#000">
<text x="43.8" y="12.8" text-anchor="end">10</text>
<text x="43.2" y="72.7" text-anchor="end" font-size="8px" letter-spacing="0.1">4</text>
<rect x="34.15" y="69.80" width="4.4" height="1.0"/>
<text x="33.75" y="76.9" text-anchor="end">10</text>
<text x="43.2" y="135.7" text-anchor="end" font-size="8px" letter-spacing="0.1">9</text>
<rect x="34.15" y="132.80" width="4.4" height="1.0"/>
<text x="33.75" y="139.9" text-anchor="end">10</text>
<text x="43.2" y="198.7" text-anchor="end" font-size="8px" letter-spacing="0.1">14</text>
<rect x="29.90" y="195.80" width="4.4" height="1.0"/>
<text x="29.50" y="202.9" text-anchor="end">10</text>
<text x="43.2" y="261.7" text-anchor="end" font-size="8px" letter-spacing="0.1">19</text>
<rect x="29.90" y="258.80" width="4.4" height="1.0"/>
<text x="29.50" y="265.9" text-anchor="end">10</text>
<text x="43.2" y="324.7" text-anchor="end" font-size="8px" letter-spacing="0.1">24</text>
<rect x="29.90" y="321.80" width="4.4" height="1.0"/>
<text x="29.50" y="328.9" text-anchor="end">10</text>
<text x="45.0" y="347.9" text-anchor="middle">5</text>
<text x="122.7" y="347.9" text-anchor="middle">10</text>
<text x="303.3" y="347.9" text-anchor="middle">50</text>
<text x="381.0" y="347.9" text-anchor="middle">100</text>
</g>
<g font-family="Liberation Serif, serif" font-weight="bold" fill="#000">
<text x="213" y="364.7" text-anchor="middle" font-size="15.5px" font-style="italic">x<tspan font-size="11px" dy="3">x</tspan></text>
<text transform="translate(11.8,169.9) rotate(-90)" text-anchor="middle" font-size="15.5px"><tspan font-style="italic">m</tspan><tspan font-style="italic" font-size="11px" dy="2.6">x</tspan><tspan font-style="italic" dy="-2.6">Y</tspan><tspan font-style="italic" font-size="11px" dy="2.6" dx="1">x</tspan><tspan dy="-2.6"> (GeV)</tspan></text>
<text x="178.0" y="300.7" font-size="12px">Λ<tspan font-style="italic" font-size="9px" dy="2.0" dx="0.3" fill="#333">x</tspan><tspan dy="-2.0" dx="0.9"> = 10</tspan><tspan font-size="8.5px" dy="-4.3" dx="-0.2">5</tspan><tspan dy="4.3" dx="0.7"> GeV</tspan></text>
<text x="190.6" y="324.2" font-size="12px">R<tspan dx="0.6"> =</tspan><tspan dx="0.9"> 10</tspan></text>
<rect x="225.0" y="317.10" width="4.4" height="1.0"/>
<text x="230.0" y="319.9" font-size="8.5px">3</text>
</g>
<g font-family="Liberation Serif, serif" fill="#000">
<path d="M51.0,244.9h5.7" stroke="#ff0000" stroke-width="1.4"/>
<text x="66.0" y="250.30" font-size="14.5px" font-style="italic">m</text>
<text x="93.2" y="250.30" font-size="14.5px" font-style="italic">Y</text>
<text transform="translate(76.7,252.80) scale(0.93,1)" font-size="11.8px">0</text>
<text transform="translate(101.7,252.80) scale(0.93,1)" font-size="11.8px">0</text>
<text x="83.1" y="249.5" font-size="7px" font-weight="bold" fill="#8a8a8a" stroke="#8a8a8a" stroke-width="0.45" letter-spacing="1.05">++</text>
<text x="108.1" y="249.5" font-size="7px" font-weight="bold" fill="#8a8a8a" stroke="#8a8a8a" stroke-width="0.45" letter-spacing="1.05">++</text>
<path d="M51.0,270.9h5.7" stroke="#0000ff" stroke-width="1.4"/>
<text x="66.0" y="276.3" font-size="14.5px" font-style="italic">m</text>
<text x="93.2" y="276.3" font-size="14.5px" font-style="italic">Y</text>
<text transform="translate(76.7,278.8) scale(0.93,1)" font-size="11.8px">2</text>
<text transform="translate(101.7,278.8) scale(0.93,1)" font-size="11.8px">2</text>
<text x="83.1" y="275.5" font-size="7px" font-weight="bold" fill="#8a8a8a" stroke="#8a8a8a" stroke-width="0.45" letter-spacing="1.05">++</text>
<text x="108.1" y="275.5" font-size="7px" font-weight="bold" fill="#8a8a8a" stroke="#8a8a8a" stroke-width="0.45" letter-spacing="1.05">++</text>
<path d="M51.0,296.9h5.7" stroke="#00ff00" stroke-width="1.4"/>
<text x="66.0" y="302.3" font-size="14.5px" font-style="italic">m</text>
<text x="93.2" y="302.3" font-size="14.5px" font-style="italic">Y</text>
<text transform="translate(76.7,304.8) scale(0.93,1)" font-size="11.8px">0</text>
<text transform="translate(101.7,304.8) scale(0.93,1)" font-size="11.8px">0</text>
<path d="M83.1,299.60h3.8M87.9,299.60h4.1" stroke="#383838" stroke-width="0.9" fill="none"/>
<path d="M89.95,297.30v4.6" stroke="#8a8a8a" stroke-width="0.9" fill="none"/>
<path d="M108.1,299.60h3.8M112.9,299.60h4.1" stroke="#383838" stroke-width="0.9" fill="none"/>
<path d="M114.95,297.30v4.6" stroke="#8a8a8a" stroke-width="0.9" fill="none"/>
<path d="M51.0,322.9h5.7" stroke="#ff8000" stroke-width="1.4"/>
<text x="66.0" y="328.3" font-size="14.5px" font-style="italic">m</text>
<text x="93.2" y="328.3" font-size="14.5px" font-style="italic">Y</text>
<text transform="translate(76.7,330.8) scale(0.93,1)" font-size="11.8px">2</text>
<text transform="translate(101.7,330.8) scale(0.93,1)" font-size="11.8px">2</text>
<path d="M83.1,325.60h3.8M87.9,325.60h4.1" stroke="#383838" stroke-width="0.9" fill="none"/>
<path d="M89.95,323.30v4.6" stroke="#8a8a8a" stroke-width="0.9" fill="none"/>
<path d="M108.1,325.60h3.8M112.9,325.60h4.1" stroke="#383838" stroke-width="0.9" fill="none"/>
<path d="M114.95,323.30v4.6" stroke="#8a8a8a" stroke-width="0.9" fill="none"/>
</g>
</svg>
</body></html>
